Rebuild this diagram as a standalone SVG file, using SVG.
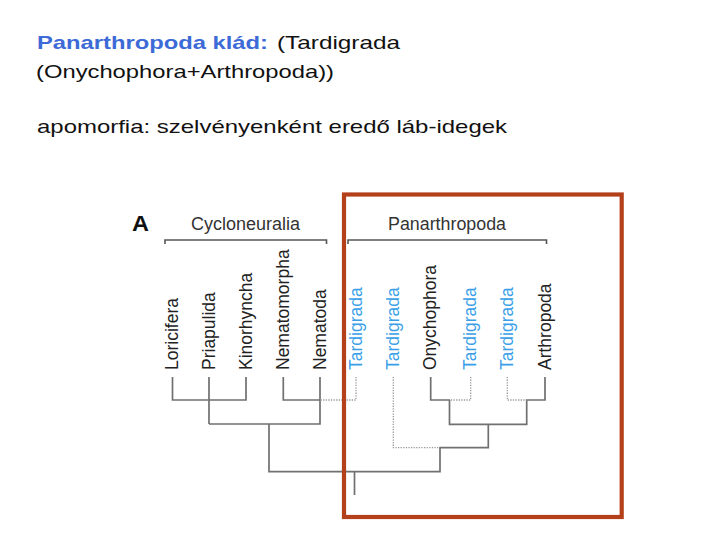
<svg xmlns="http://www.w3.org/2000/svg" width="720" height="540" viewBox="0 0 720 540">
<style>
.t{font-family:"Liberation Sans",Arial,sans-serif;fill:#111}
.ttl{font-size:19px}
.b{font-weight:bold;fill:#3c6ad6}
.lf{font-family:"Liberation Sans",Arial,sans-serif;font-size:17.5px;fill:#222;text-anchor:start}
.tg{fill:#3a9fe8}
.grp{font-family:"Liberation Sans",Arial,sans-serif;font-size:17.5px;fill:#333}
.s{fill:none;stroke:#707070;stroke-width:1.7}
.d{fill:none;stroke:#9a9a9a;stroke-width:1.3;stroke-dasharray:1.3 1.3}
.br{fill:none;stroke:#555;stroke-width:1.6}
</style>
<rect width="720" height="540" fill="#fff"/>
<g id="title">
<text class="t ttl b" x="37" y="49" textLength="231" lengthAdjust="spacingAndGlyphs">Panarthropoda klád:</text>
<text class="t ttl" x="277" y="49" textLength="123" lengthAdjust="spacingAndGlyphs">(Tardigrada</text>
<text class="t ttl" x="36" y="78" textLength="298" lengthAdjust="spacingAndGlyphs">(Onychophora+Arthropoda))</text>
<text class="t ttl" x="37" y="133" textLength="470" lengthAdjust="spacingAndGlyphs">apomorfia: szelvényenként eredő láb-idegek</text>
</g>
<g id="panel-label"><text x="132" y="231" font-family="Liberation Sans,Arial,sans-serif" font-weight="bold" font-size="22" fill="#111" textLength="17" lengthAdjust="spacingAndGlyphs">A</text></g>
<g id="cycloneuralia">
<text class="grp" x="191" y="229.5" textLength="109" lengthAdjust="spacingAndGlyphs">Cycloneuralia</text>
<path class="br" d="M165,244 V240 H326.5 V244"/>
</g>
<g id="panarthropoda">
<text class="grp" x="388" y="230" textLength="118" lengthAdjust="spacingAndGlyphs">Panarthropoda</text>
<path class="br" d="M348,244 V240 H546.5 V244"/>
</g>
<g id="leaf-loricifera"><text class="lf" transform="translate(178,370) rotate(-90)">Loricifera</text></g>
<g id="leaf-priapulida"><text class="lf" transform="translate(214.5,370) rotate(-90)">Priapulida</text></g>
<g id="leaf-kinorhyncha"><text class="lf" transform="translate(251.5,370) rotate(-90)">Kinorhyncha</text></g>
<g id="leaf-nematomorpha"><text class="lf" transform="translate(288.8,370) rotate(-90)">Nematomorpha</text></g>
<g id="leaf-nematoda"><text class="lf" transform="translate(325.5,370) rotate(-90)">Nematoda</text></g>
<g id="leaf-tardigrada1"><text class="lf tg" transform="translate(361.5,370) rotate(-90)">Tardigrada</text></g>
<g id="leaf-tardigrada2"><text class="lf tg" transform="translate(398.8,370) rotate(-90)">Tardigrada</text></g>
<g id="leaf-onychophora"><text class="lf" transform="translate(436.2,370) rotate(-90)">Onychophora</text></g>
<g id="leaf-tardigrada3"><text class="lf tg" transform="translate(476.2,370) rotate(-90)">Tardigrada</text></g>
<g id="leaf-tardigrada4"><text class="lf tg" transform="translate(512.8,370) rotate(-90)">Tardigrada</text></g>
<g id="leaf-arthropoda"><text class="lf" transform="translate(550.5,370) rotate(-90)">Arthropoda</text></g>
<g id="connectors">
<path class="s" d="M172.5,377 V400 H246 V377 M209,377 V424 M283.3,377 V400 H320 M320,377 V424 H209 M269,424 V471.7 H440 V447.7 H488.3 V424.3 M354.5,471.7 V495"/>
<path class="s" d="M430.7,377 V400 H450 M449.5,400 V424.3 H526.7 V400 H545 V377"/>
<path class="d" d="M356,377 V400 H320 M393.3,377 V447.7 H440 M470.7,377 V400 H450 M507.3,377 V400 H526.7"/>
</g>
<g id="highlight-box"><rect x="344" y="194.5" width="277.7" height="322.5" fill="none" stroke="#b3401b" stroke-width="4.2"/></g>
</svg>
